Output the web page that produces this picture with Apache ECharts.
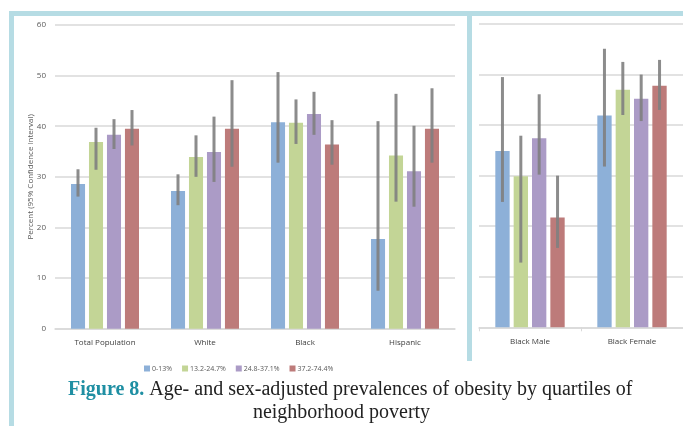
<!DOCTYPE html>
<html>
<head>
<meta charset="utf-8">
<script src="https://cdn.jsdelivr.net/npm/echarts@6/dist/echarts.min.js"></script>
<style>html,body{margin:0;padding:0;background:#fff;}#c{width:683px;height:426px;}</style>
</head>
<body>
<div id="c"></div>
<script>
// ---- data ----
var quartiles = ['0-13%', '13.2-24.7%', '24.8-37.1%', '37.2-74.4%'];
var colors = ['#8db0d8', '#c3d596', '#ab9bc6', '#bd7b7a'];

var leftCategories = ['Total Population', 'White', 'Black', 'Hispanic'];
var leftValues = [
  [28.6, 27.2, 40.8, 17.7],
  [36.9, 33.9, 40.7, 34.2],
  [38.3, 34.9, 42.4, 31.1],
  [39.5, 39.5, 36.4, 39.5]
];
var leftLower = [
  [26.1, 24.4, 32.8, 7.5],
  [31.4, 30.0, 36.5, 25.1],
  [35.5, 29.0, 38.3, 24.1],
  [36.2, 32.0, 32.4, 32.8]
];
var leftUpper = [
  [31.5, 30.5, 50.7, 41.0],
  [39.7, 38.2, 45.3, 46.4],
  [41.4, 41.9, 46.8, 40.1],
  [43.2, 49.1, 41.2, 47.5]
];

var rightCategories = ['Black Male', 'Black Female'];
var rightValues = [
  [34.9, 41.9],
  [29.9, 47.0],
  [37.4, 45.2],
  [21.7, 47.8]
];
var rightLower = [
  [24.8, 31.8],
  [12.8, 42.0],
  [30.2, 40.8],
  [15.7, 43.0]
];
var rightUpper = [
  [49.5, 55.1],
  [37.9, 52.5],
  [46.1, 50.0],
  [30.0, 52.9]
];

var yTicks = [0, 10, 20, 30, 40, 50, 60];
var yTitle = 'Percent (95% Confidence interval)';
var captionLead = 'Figure 8.';
var captionLine1 = ' Age- and sex-adjusted prevalences of obesity by quartiles of';
var captionLine2 = 'neighborhood poverty';

// ---- chart ----
var chart = echarts.init(document.getElementById('c'), null, {renderer: 'canvas'});
var frameColor = '#b6dce4';

function errRender(q) {
  return function (params, api) {
    var c = api.value(0);
    var lo = api.coord([c, api.value(1)]);
    var hi = api.coord([c, api.value(2)]);
    var band = api.size([1, 0])[0];
    var x = hi[0] + (q - 1.5) * 0.18 * band;
    return {
      type: 'line',
      shape: {x1: x, y1: hi[1], x2: x, y2: lo[1]},
      style: {stroke: '#7f7f7f', lineWidth: 3, opacity: 0.9}
    };
  };
}

var series = [];
for (var q = 0; q < 4; q++) {
  series.push({
    name: quartiles[q], type: 'bar', xAxisIndex: 0, yAxisIndex: 0,
    data: leftValues[q], itemStyle: {color: colors[q]},
    barGap: '28%', barCategoryGap: '32%', silent: true
  });
}
for (var q = 0; q < 4; q++) {
  series.push({
    name: quartiles[q], type: 'bar', xAxisIndex: 1, yAxisIndex: 1,
    data: rightValues[q], itemStyle: {color: colors[q]},
    barGap: '28%', barCategoryGap: '32%', silent: true
  });
}
for (var q = 0; q < 4; q++) {
  series.push({
    type: 'custom', xAxisIndex: 0, yAxisIndex: 0, z: 5, silent: true,
    renderItem: errRender(q),
    data: leftCategories.map(function (c, i) { return [i, leftLower[q][i], leftUpper[q][i]]; })
  });
  series.push({
    type: 'custom', xAxisIndex: 1, yAxisIndex: 1, z: 5, silent: true,
    renderItem: errRender(q),
    data: rightCategories.map(function (c, i) { return [i, rightLower[q][i], rightUpper[q][i]]; })
  });
}

var yBase = {
  type: 'value', min: yTicks[0], max: yTicks[yTicks.length - 1], interval: 10,
  axisLine: {show: false}, axisTick: {show: false},
  splitLine: {lineStyle: {color: '#d9d9d9', width: 1.5}}
};

var option = {
  animation: false,
  backgroundColor: '#fff',
  textStyle: {fontFamily: 'Open Sans'},
  grid: [
    {left: 55, top: 25, width: 400, height: 303.7},
    {left: 479, top: 24, width: 212, height: 303.3}
  ],
  xAxis: [
    {type: 'category', gridIndex: 0, data: leftCategories,
     axisLine: {lineStyle: {color: '#d9d9d9', width: 1.5}}, axisTick: {show: false},
     axisLabel: {color: '#404040', fontSize: 8, margin: 10}},
    {type: 'category', gridIndex: 1, data: rightCategories,
     axisLine: {lineStyle: {color: '#d9d9d9', width: 1.5}},
     axisTick: {show: true, length: 4, lineStyle: {color: '#d9d9d9'}},
     axisLabel: {color: '#404040', fontSize: 8, margin: 10}}
  ],
  yAxis: [
    Object.assign({}, yBase, {gridIndex: 0,
      axisLabel: {color: '#595959', fontSize: 8, margin: 9},
      name: yTitle, nameLocation: 'middle', nameRotate: 90, nameGap: 20,
      nameMoveOverlap: false,
      nameTextStyle: {color: '#595959', fontSize: 8}}),
    Object.assign({}, yBase, {gridIndex: 1, axisLabel: {show: false}})
  ],
  legend: {
    data: quartiles, left: 139, top: 360, itemWidth: 6, itemHeight: 6, itemGap: 10,
    icon: 'rect', textStyle: {color: '#595959', fontSize: 7, padding: [0, 0, 0, -3]}, selectedMode: false
  },
  graphic: [
    {type: 'rect', shape: {x: 9, y: 11, width: 674, height: 5}, style: {fill: frameColor}, silent: true},
    {type: 'rect', shape: {x: 9, y: 11, width: 5, height: 415}, style: {fill: frameColor}, silent: true},
    {type: 'rect', shape: {x: 467, y: 11, width: 5, height: 350}, style: {fill: frameColor}, silent: true},
    {type: 'text', left: 68, top: 380, style: {
      text: '{a|' + captionLead + '}{b|' + captionLine1 + '}',
      rich: {
        a: {fontFamily: 'Liberation Serif', fontSize: 20, fontWeight: 'bold', fill: '#1f8fa3'},
        b: {fontFamily: 'Liberation Serif', fontSize: 20, fill: '#222'}
      }
    }},
    {type: 'text', left: 'center', top: 403, style: {
      text: captionLine2, fontFamily: 'Liberation Serif', fontSize: 20, fill: '#222'
    }}
  ],
  series: series
};
chart.setOption(option);
</script>
</body>
</html>
